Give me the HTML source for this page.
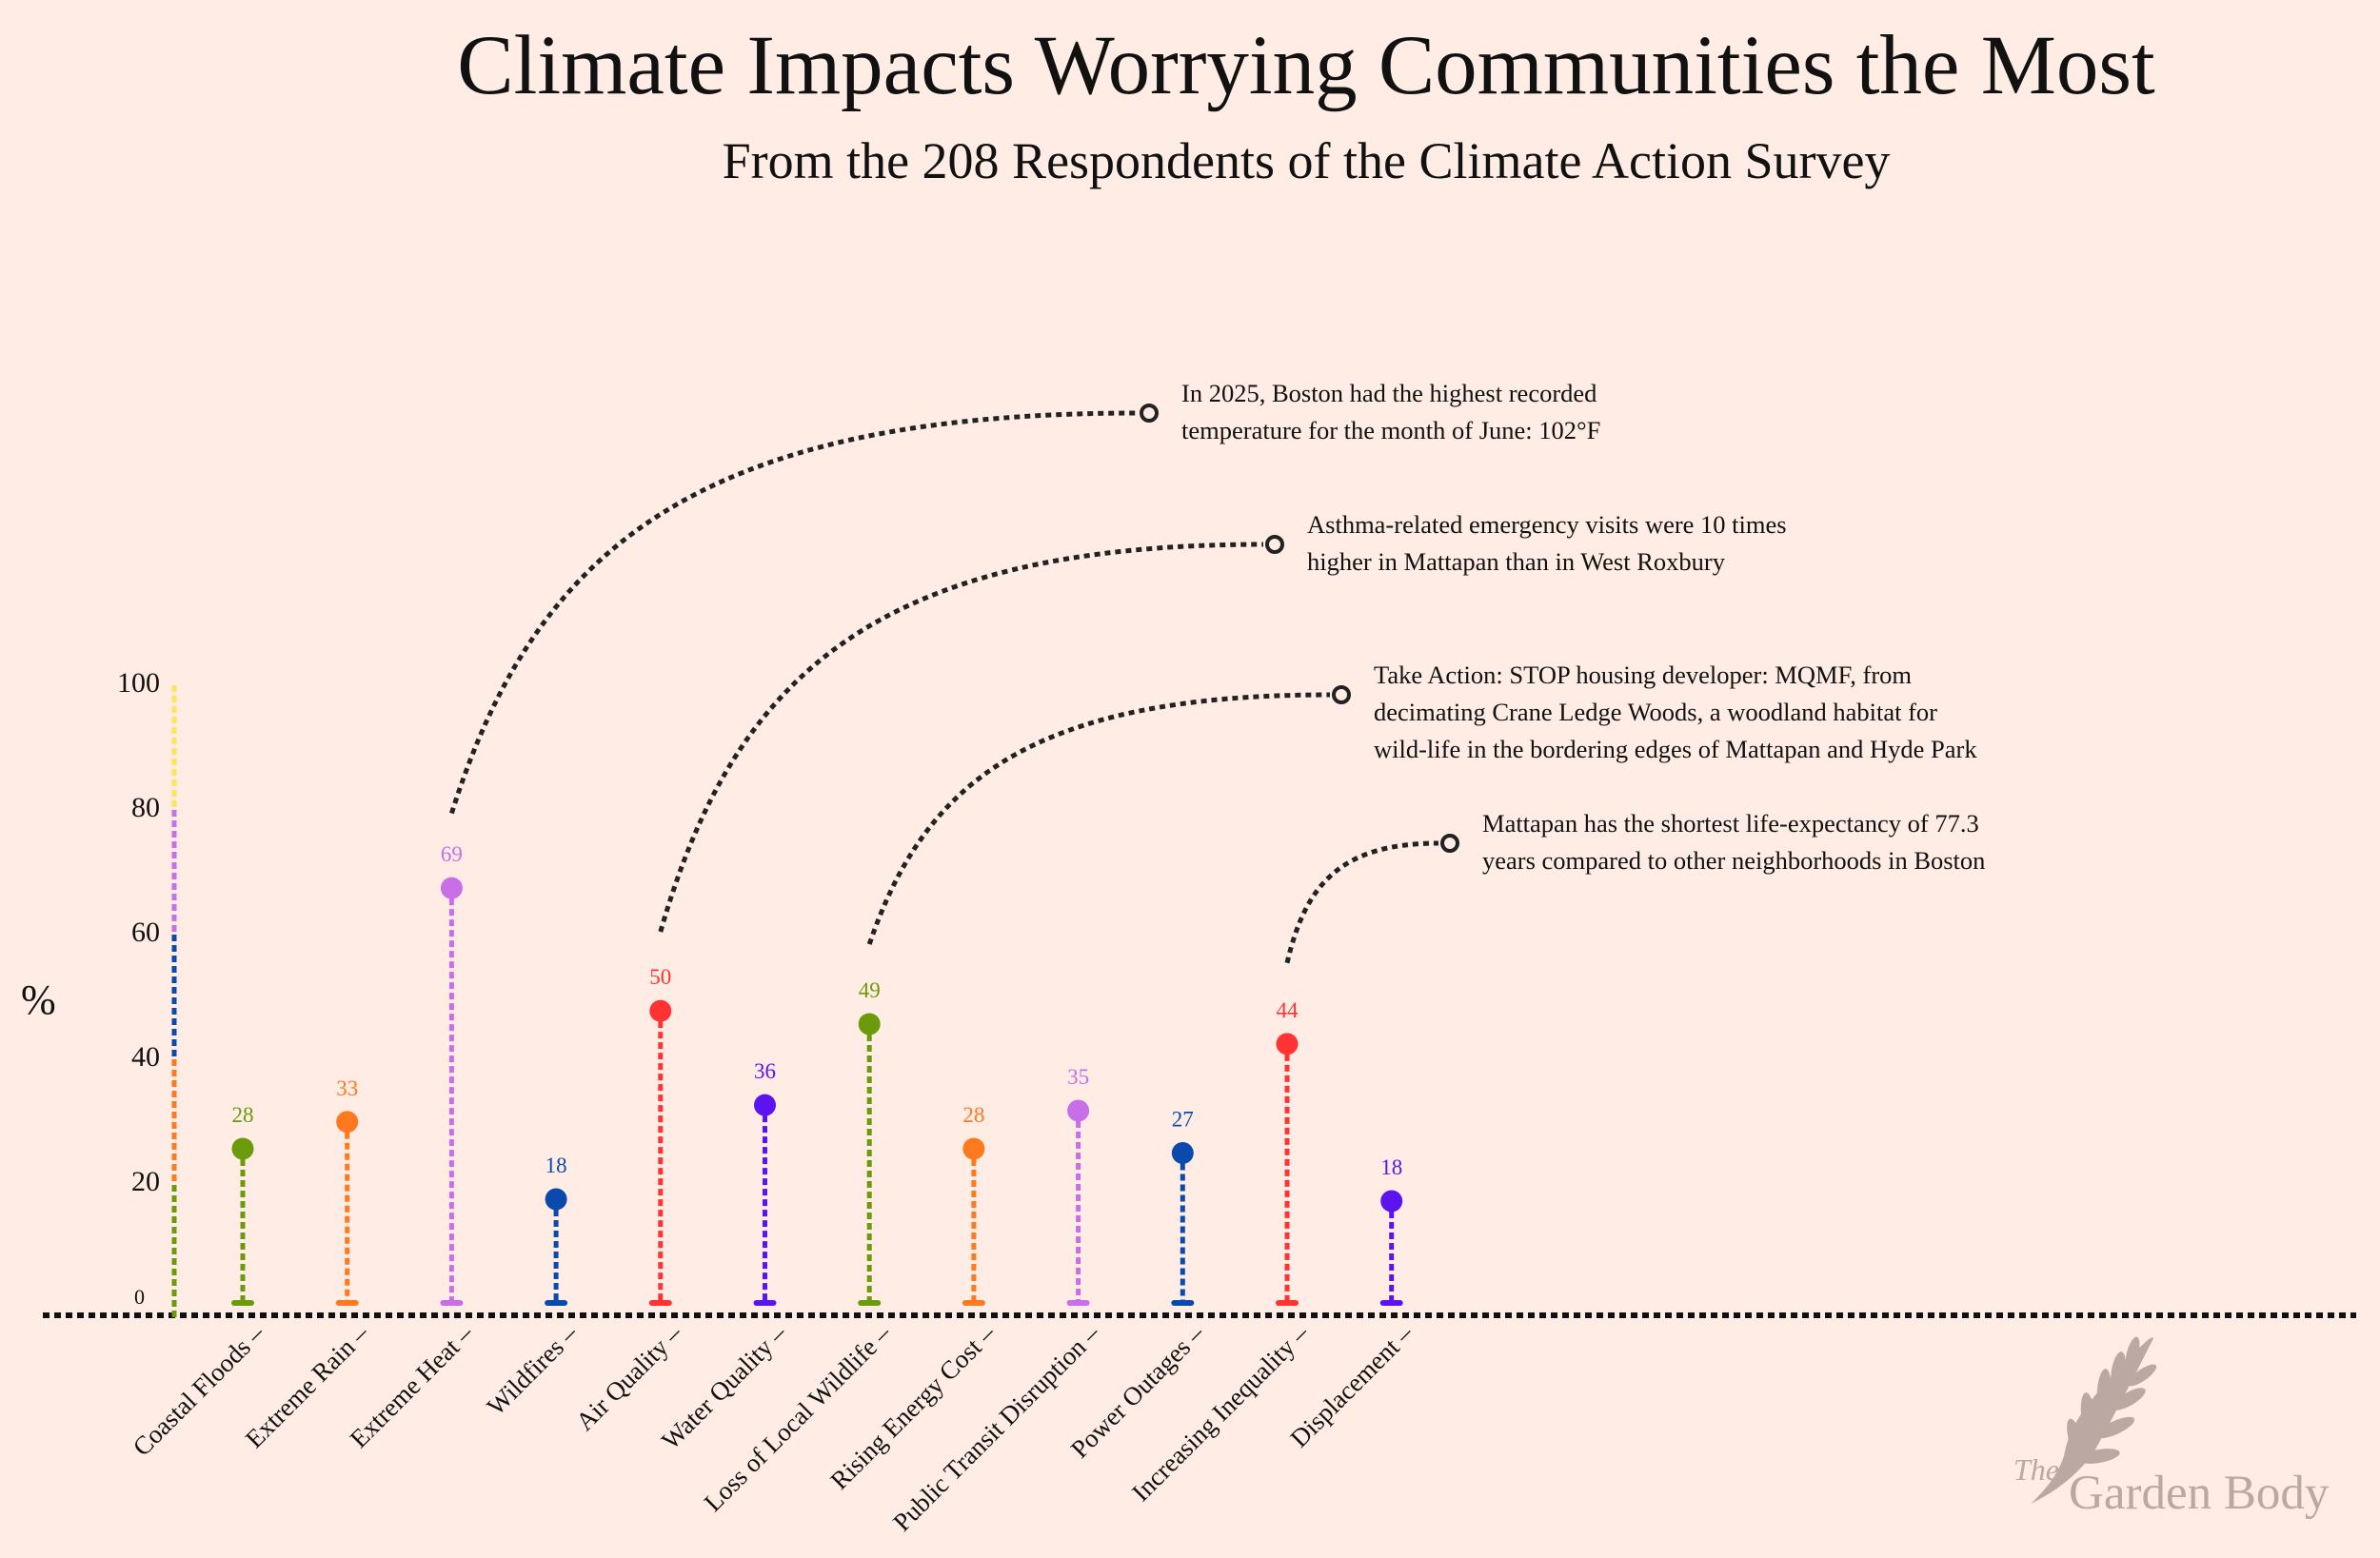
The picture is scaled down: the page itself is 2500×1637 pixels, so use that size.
<!DOCTYPE html>
<html><head><meta charset="utf-8">
<style>
html,body{margin:0;padding:0;background:#feece5;}
svg{display:block;font-family:"Liberation Serif",serif;}
</style></head>
<body>
<svg id="chart" width="2500" height="1637" viewBox="0 0 2500 1637" xmlns="http://www.w3.org/2000/svg">
<rect width="2500" height="1637" fill="#feece5"/>
<text x="1372" y="98" font-size="89" text-anchor="middle" fill="#111">Climate Impacts Worrying Communities the Most</text>
<text x="1372" y="187" font-size="54" text-anchor="middle" fill="#111">From the 208 Respondents of the Climate Action Survey</text>
<g id="plot"></g>
<g>
<path d="M2133,1580 Q2175,1560 2200,1525 Q2230,1470 2260,1410 Q2265,1402 2256,1408 Q2220,1440 2190,1480 Q2172,1505 2168,1530 Q2160,1555 2133,1580Z" fill="#bba8a2"/>
<g fill="#bba8a2">
<ellipse cx="2180" cy="1512" rx="7" ry="22" transform="rotate(-15 2180 1512)"/>
<ellipse cx="2193" cy="1485" rx="7" ry="22" transform="rotate(-5 2193 1485)"/>
<ellipse cx="2210" cy="1460" rx="7" ry="22" transform="rotate(5 2210 1460)"/>
<ellipse cx="2225" cy="1440" rx="7" ry="20" transform="rotate(10 2225 1440)"/>
<ellipse cx="2240" cy="1422" rx="6" ry="18" transform="rotate(15 2240 1422)"/>
<ellipse cx="2205" cy="1530" rx="22" ry="7" transform="rotate(-10 2205 1530)"/>
<ellipse cx="2222" cy="1500" rx="22" ry="7" transform="rotate(-25 2222 1500)"/>
<ellipse cx="2236" cy="1470" rx="20" ry="7" transform="rotate(-30 2236 1470)"/>
<ellipse cx="2250" cy="1445" rx="18" ry="6" transform="rotate(-35 2250 1445)"/>
</g>
<text x="2115" y="1555" font-size="32" font-style="italic" fill="#bba8a2">The</text>
<text x="2173" y="1585" font-size="51" fill="#bba8a2">Garden Body</text>
</g>
</svg>
<script>
const categories = ["Coastal Floods","Extreme Rain","Extreme Heat","Wildfires","Air Quality","Water Quality","Loss of Local Wildlife","Rising Energy Cost","Public Transit Disruption","Power Outages","Increasing Inequality","Displacement"];
const labelValues = [28,33,69,18,50,36,49,28,35,27,44,18];
const dotValues = [25.2,29.5,67,17.1,47.3,32.2,45.2,25.2,31.3,24.5,42,16.8];
const colors = ["#6b9a0a","#ff7a1f","#c86ee6","#0a4aad","#ff3333","#5b14f0","#6b9a0a","#ff7a1f","#c86ee6","#0a4aad","#ff3333","#5b14f0"];
const yTicks = [0,20,40,60,80,100];
const axisSegColors = ["#6b9a0a","#ff7a1f","#0a4aad","#c86ee6","#ffe45c"];
const annotations = [
 {cat:2, from:79, tx:1207, ty:434, lines:["In 2025, Boston had the highest recorded","temperature for the month of June: 102°F"]},
 {cat:4, from:60, tx:1339, ty:572, lines:["Asthma-related emergency visits were 10 times","higher in Mattapan than in West Roxbury"]},
 {cat:6, from:58, tx:1409, ty:730, lines:["Take Action: STOP housing developer: MQMF, from","decimating Crane Ledge Woods, a woodland habitat for","wild-life in the bordering edges of Mattapan and Hyde Park"]},
 {cat:10, from:55, tx:1523, ty:886, lines:["Mattapan has the shortest life-expectancy of 77.3","years compared to other neighborhoods in Boston"]}
];
const NS="http://www.w3.org/2000/svg";
const plot=document.getElementById('plot');
const X0=255, DX=109.7, Y0=1372, YK=6.55;
function xs(i){return X0+i*DX;}
function ys(v){return Y0-v*YK;}
function mk(tag,attrs,parent){const e=document.createElementNS(NS,tag);for(const k in attrs)e.setAttribute(k,attrs[k]);(parent||plot).appendChild(e);return e;}
let bl=mk('line',{x1:45,x2:2475,y1:1382,y2:1382,stroke:'#111','stroke-width':6,'stroke-dasharray':'7 5'});


for(let s=0;s<5;s++){
 const seg=mk('line',{x1:183,x2:183,y1:ys(yTicks[s])+(s==0?12:0),y2:ys(yTicks[s+1]),stroke:axisSegColors[s],'stroke-width':5,'stroke-dasharray':'7 4'});
 
 
}
yTicks.forEach(t=>{
 const tx=mk('text',{x:t==0?152:168,y:ys(t)+(t==0?-2:10),'font-size':t==0?22:30,'text-anchor':'end',fill:'#111'});
 tx.textContent=t;
 
 
});
const yt=mk('text',{x:22,y:1065,'font-size':44,fill:'#111'});
yt.textContent='%';


categories.forEach((c,i)=>{
 const x=xs(i), y=ys(dotValues[i]);
 const st=mk('line',{x1:x,x2:x,y1:y,y2:1368,stroke:colors[i],'stroke-width':5,'stroke-dasharray':'7 4'});
 
 
 const cap=mk('line',{x1:x-9,x2:x+9,y1:1369,y2:1369,stroke:colors[i],'stroke-width':6,'stroke-linecap':'round'});
 
 
 const dot=mk('circle',{cx:x,cy:y,r:11.5,fill:colors[i]});
 
 
 const lb=mk('text',{x:x,y:y-28,'font-size':23,'text-anchor':'middle',fill:colors[i]});
 lb.textContent=labelValues[i];
 
 
 const xl=mk('text',{x:0,y:0,'font-size':27,'text-anchor':'end',fill:'#111',transform:`translate(${x+24},${1403}) rotate(-45)`});
 xl.textContent=c+' –';
 
 
});
annotations.forEach(a=>{
 const x0=xs(a.cat), y0=ys(a.from), x1=a.tx-12, y1=a.ty;
 const d=`M${x0},${y0} C${x0+(x1-x0)*0.12},${y0-(y0-y1)*0.65} ${x0+(x1-x0)*0.35},${y1} ${x1},${y1}`;
 const p=mk('path',{d:d,fill:'none',stroke:'#222','stroke-width':5,'stroke-dasharray':'6 5'});
 
 
 const c=mk('circle',{cx:a.tx,cy:a.ty,r:8,fill:'#feece5',stroke:'#222','stroke-width':4});
 
 
 a.lines.forEach((l,k)=>{
  const t=mk('text',{x:a.tx+34,y:a.ty-12+k*39,'font-size':26.5,fill:'#111'});
  t.textContent=l;
  
  
 });
});
</script>
</body></html>
